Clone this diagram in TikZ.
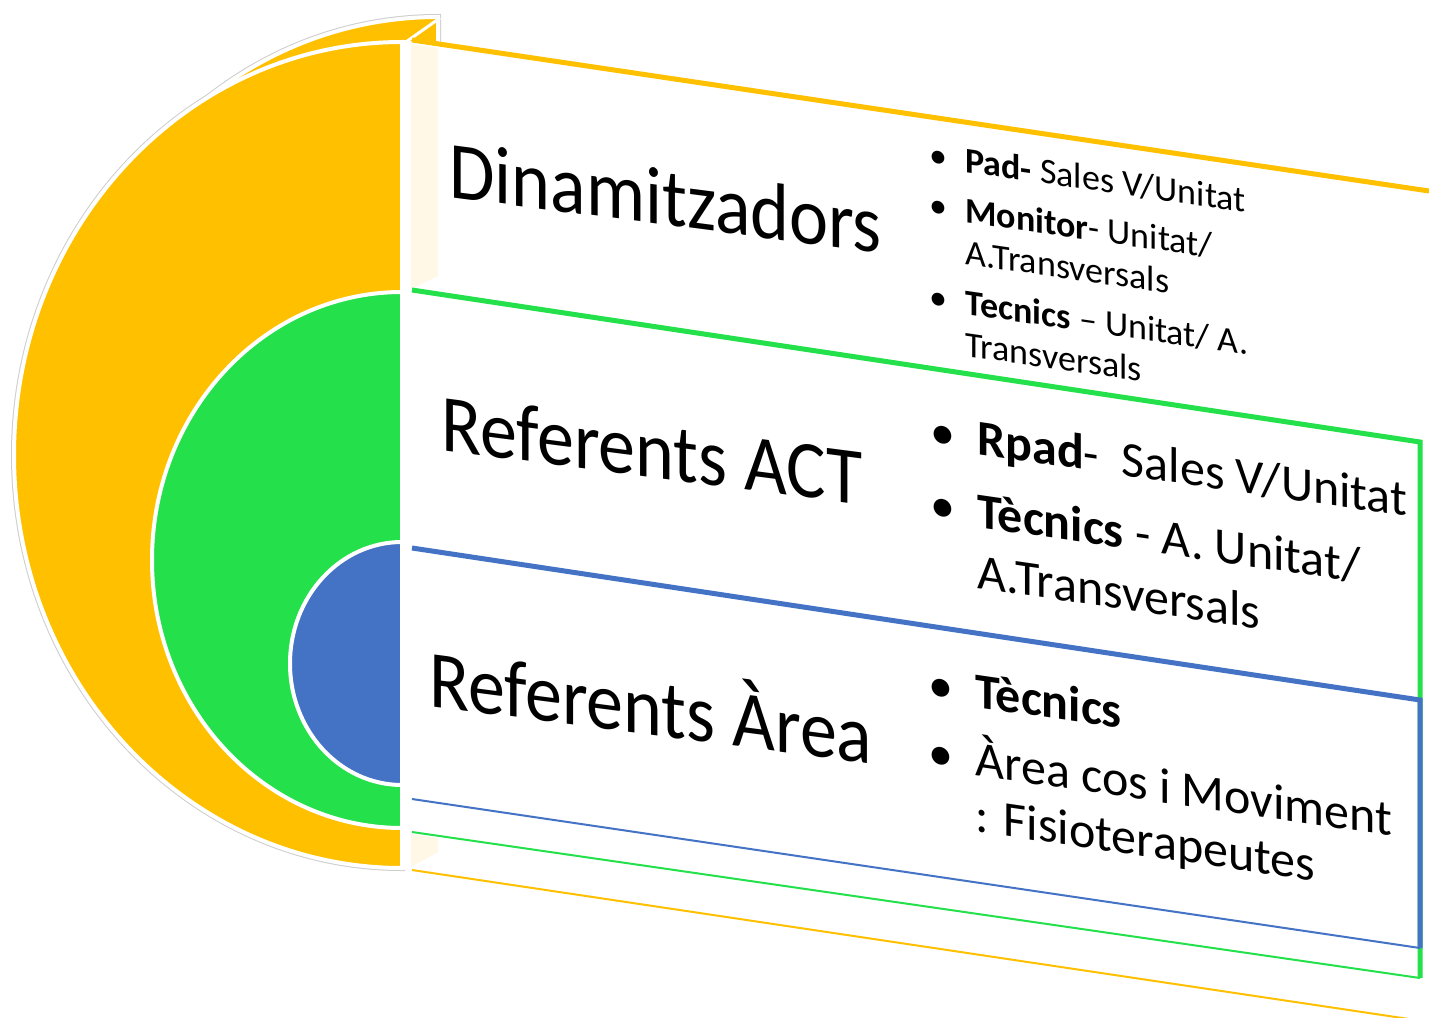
\documentclass[tikz,border=0pt]{standalone}
\usepackage{fontspec}
\setmainfont{Carlito}
\definecolor{ringorange}{RGB}{255,192,0}
\definecolor{ringgreen}{RGB}{35,224,75}
\definecolor{ringblue}{RGB}{68,114,196}
\definecolor{sidecream}{RGB}{255,248,230}
\definecolor{rimgray}{RGB}{205,205,205}
\newcommand{\itemdot}[1]{\llap{\textbullet\hspace{#1}}}

\begin{document}
\begin{tikzpicture}[x=0.5pt,y=-0.5pt,
  rim/.style={draw=rimgray, line width=3pt},
  ring/.style={fill=#1, draw=white, line width=2pt},
  topedge/.style={draw=#1, line width=2.5pt},
  lowedge/.style={draw=#1, line width=1pt},
  title/.style={anchor=base west, inner sep=0pt, yslant=-0.13, yscale=1.1,
    font=\fontsize{37}{44}\selectfont},
  bullets/.style={anchor=base west, inner sep=0pt, yslant=-0.145}]
\useasboundingbox (0,0) rectangle (1429,1017);

% half discs, back face behind the front one
\path[rim] (402,868) arc[start angle=90, end angle=270, x radius=388, y radius=413] -- cycle;
\path[rim] (438,843) arc[start angle=90, end angle=270, x radius=388, y radius=413] -- cycle;
\path[ring=ringorange] (438,843) arc[start angle=90, end angle=270, x radius=388, y radius=413] -- cycle;
\path[ring=ringorange] (402,868) arc[start angle=90, end angle=270, x radius=388, y radius=413] -- cycle;
\path[ring=ringgreen] (402,828) arc[start angle=90, end angle=270, x radius=250, y radius=268] -- cycle;
\path[ring=ringblue] (402,785) arc[start angle=90, end angle=270, x radius=112, y radius=121.5] -- cycle;

% panels
\fill[white] (404,40) -- (1429,191) -- (1429,1022) -- (404,870) -- cycle;
\fill[sidecream] (411,44) -- (438,48) -- (438,276) -- (411,289) -- cycle;
\fill[sidecream] (411,834) -- (438,838) -- (438,852) -- (411,867) -- cycle;
\draw[white, line width=1.5pt] (403,44) -- (440,18);

\draw[topedge=ringorange] (412,40) -- (1429,191);
\draw[lowedge=ringorange] (412,870) -- (1429,1022);
\draw[topedge=ringgreen] (412,290) -- (1420,442) -- (1420,978);
\draw[lowedge=ringgreen] (412,832) -- (1420,978);
\draw[topedge=ringblue] (412,548) -- (1420,700) -- (1420,948);
\draw[lowedge=ringblue] (412,799) -- (1420,948);

% titles
\node[title] (dinam) at (449,197) {Dinamitzadors};
\node[title] (refact) at (441,450) {Referents ACT};
\node[title] (refarea) at (429,706) {Referents Àrea};

% lists
\node[bullets, font=\fontsize{18}{21}\selectfont] (padlist) at (965,172) {%
\begin{tabular}[t]{@{}l@{}}
\itemdot{9pt}\textbf{Pad-} Sales V/Unitat\\[4pt]
\itemdot{9pt}\textbf{Monitor}- Unitat/\\
A.Transversals\\[4pt]
\itemdot{9pt}\textbf{Tecnics} – Unitat/ A.\\
Transversals
\end{tabular}};
\node[bullets, font=\fontsize{25}{30.5}\selectfont] (rpadlist) at (977,454) {%
\begin{tabular}[t]{@{}l@{}}
\itemdot{11pt}\textbf{Rpad}-\ \ Sales V/Unitat\\[6pt]
\itemdot{11pt}\textbf{Tècnics} - A. Unitat/\\
A.Transversals
\end{tabular}};
\node[bullets, font=\fontsize{25}{28}\selectfont] (arealist) at (975,707) {%
\begin{tabular}[t]{@{}l@{}}
\itemdot{11pt}\textbf{Tècnics}\\[5pt]
\itemdot{11pt}Àrea cos i Moviment\\
: Fisioterapeutes
\end{tabular}};
\end{tikzpicture}
\end{document}
